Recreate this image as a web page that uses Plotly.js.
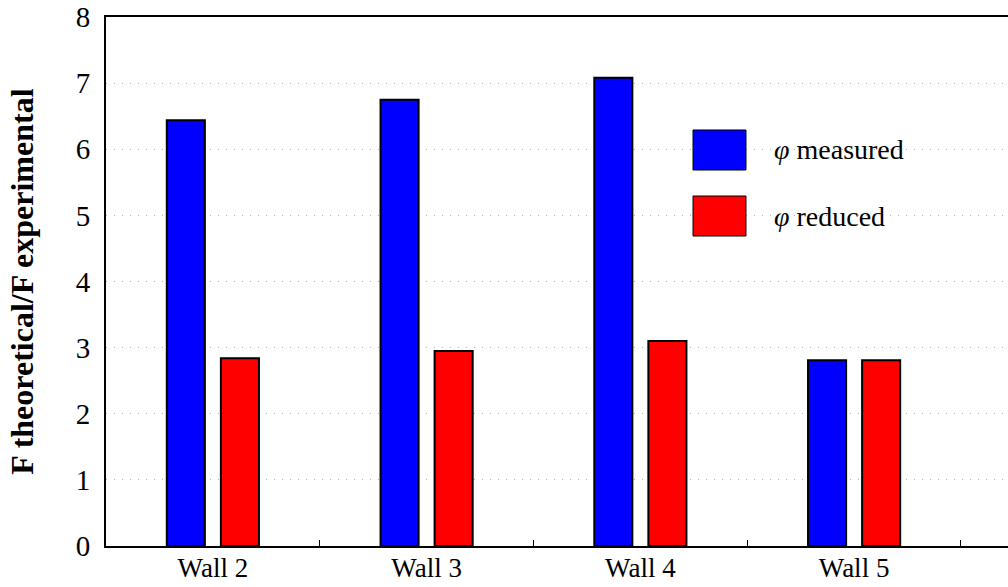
<!DOCTYPE html>
<html>
<head>
<meta charset="utf-8">
<script src="https://cdn.plot.ly/plotly-3.0.1.min.js"></script>
<style>html,body{margin:0;padding:0;background:#fff;}#chart{width:1008px;height:587px;}</style>
</head>
<body>
<div id="chart"></div>
<script>
const categories = ["Wall 2", "Wall 3", "Wall 4", "Wall 5"];
const measured = [6.44, 6.75, 7.08, 2.81];
const reduced = [2.84, 2.95, 3.10, 2.81];
const seriesNames = ["<i>φ</i> measured", "<i>φ</i> reduced"];
const yTicks = [0, 1, 2, 3, 4, 5, 6, 7, 8];

const serif = "Liberation Serif";

const traces = [
  {type: "bar", x: categories, y: measured, name: seriesNames[0],
   marker: {color: "#0000ff", line: {color: "#000", width: 2}}},
  {type: "bar", x: categories, y: reduced, name: seriesNames[1],
   marker: {color: "#ff0000", line: {color: "#000", width: 2}}}
];

const legendColors = ["#0000ff", "#ff0000"];
const legendY = [[0.7108, 0.7864], [0.5860, 0.6616]];
const shapes = legendColors.map((c, i) => ({
  type: "rect", xref: "paper", yref: "paper",
  x0: 0.6508, x1: 0.7095, y0: legendY[i][0], y1: legendY[i][1],
  fillcolor: c, line: {color: "#000", width: 1}
}));
const annotations = seriesNames.map((n, i) => ({
  xref: "paper", yref: "paper", x: 0.7384, y: (legendY[i][0] + legendY[i][1]) / 2,
  xanchor: "left", yanchor: "middle", text: n, showarrow: false,
  font: {family: serif, size: 28, color: "#000"}
}));
annotations.push({
  xref: "paper", yref: "paper", x: -0.094, y: 0.5, xanchor: "center", yanchor: "middle",
  text: "<b>F theoretical/F experimental</b>", textangle: -90, showarrow: false,
  font: {family: serif, size: 32, color: "#000"}
});

const layout = {
  width: 1008, height: 587,
  font: {family: serif, color: "#000"},
  margin: {l: 106, r: 0, t: 17, b: 41, pad: 0},
  paper_bgcolor: "#fff", plot_bgcolor: "#fff",
  showlegend: false,
  barmode: "group", bargap: 0.494, bargroupgap: 0.296,
  xaxis: {
    type: "category", range: [-0.5, 3.72],
    tickson: "boundaries", ticks: "inside", ticklen: 6, tickcolor: "#000", tickwidth: 1,
    showline: true, linecolor: "#000", linewidth: 2, mirror: true,
    ticklabelstandoff: -3,
    showgrid: false, zeroline: false,
    tickfont: {family: serif, size: 27, color: "#000"}
  },
  yaxis: {
    range: [0, 8], tickvals: yTicks, ticktext: yTicks.map(String),
    ticks: "", showline: true, linecolor: "#000", linewidth: 2,
    ticklabelstandoff: 8,
    showgrid: true, gridcolor: "#b0b0b0", gridwidth: 1, griddash: "1px,7px",
    zeroline: false,
    tickfont: {family: serif, size: 29, color: "#000"}
  },
  shapes: shapes,
  annotations: annotations
};

Plotly.newPlot("chart", traces, layout, {displayModeBar: false, staticPlot: true});
</script>
</body>
</html>
